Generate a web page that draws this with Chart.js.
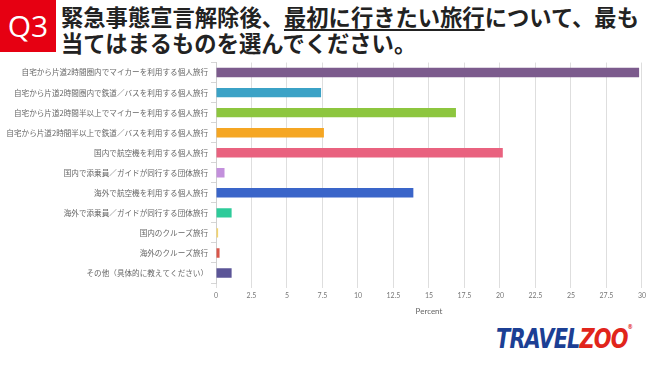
<!DOCTYPE html>
<html>
<head>
<meta charset="utf-8">
<script src="https://cdn.jsdelivr.net/npm/chart.js@4"></script>
<style>
  body { margin: 0; width: 650px; height: 365px; background: #fff; position: relative; overflow: hidden; font-family: "Noto Sans CJK JP", sans-serif; }
  #q { position: absolute; left: 0; top: 0; width: 56px; height: 52px; background: #e60012; color: #fff; font: 30px "Open Sans", sans-serif; line-height: 52px; text-align: center; }
  #head { position: absolute; left: 61px; top: 3px; font-size: 22.3px; font-weight: bold; line-height: 26px; color: #222; white-space: nowrap; }
  #head u { text-decoration-thickness: 2px; text-underline-offset: 3px; }
  #wrap { position: absolute; left: 0; top: 55px; width: 650px; height: 265px; }
  #logo { position: absolute; left: 496px; top: 323px; font: italic bold 27px "DejaVu Sans Condensed", "DejaVu Sans", sans-serif; letter-spacing: -1px; transform: scaleX(0.86); transform-origin: left top; white-space: nowrap; }
  #logo .t { color: #1c3f94; }
  #logo .z { color: #e1251b; }
  #logo sup { font-size: 7px; color: #e1251b; font-style: normal; vertical-align: top; }
</style>
</head>
<body>
<div id="q">Q3</div>
<div id="head">緊急事態宣言解除後、<u>最初に行きたい旅行</u>について、最も<br>当てはまるものを選んでください。</div>
<div id="wrap"><canvas id="c"></canvas></div>
<div id="logo"><span class="t">TRAVEL</span><span class="z">ZOO</span><sup>®</sup></div>
<script>
// answers, top to bottom
const categories = [
  "自宅から片道2時間圏内でマイカーを利用する個人旅行",
  "自宅から片道2時間圏内で鉄道／バスを利用する個人旅行",
  "自宅から片道2時間半以上でマイカーを利用する個人旅行",
  "自宅から片道2時間半以上で鉄道／バスを利用する個人旅行",
  "国内で航空機を利用する個人旅行",
  "国内で添乗員／ガイドが同行する団体旅行",
  "海外で航空機を利用する個人旅行",
  "海外で添乗員／ガイドが同行する団体旅行",
  "国内のクルーズ旅行",
  "海外のクルーズ旅行",
  "その他（具体的に教えてください）"
]
const percent = [29.8, 7.4, 16.9, 7.6, 20.2, 0.6, 13.9, 1.1, 0.15, 0.25, 1.1]
const barColors = ["#7c5b8d", "#3ba2c6", "#8dc63f", "#f5a623", "#e9627f", "#c390dc",
  "#3a65c9", "#2ecb9a", "#f3d46c", "#d9564a", "#5b5597"]
const xTicks = [0, 2.5, 5, 7.5, 10, 12.5, 15, 17.5, 20, 22.5, 25, 27.5, 30]

new Chart(document.getElementById("c"), {
  type: "bar",
  data: {
    labels: categories,
    datasets: [{
      data: percent,
      backgroundColor: barColors,
      borderColor: barColors,
      borderWidth: 0,
      categoryPercentage: 1,
      barPercentage: 0.47,
      minBarLength: 2
    }]
  },
  options: {
    indexAxis: "y",
    responsive: true,
    maintainAspectRatio: false,
    animation: false,
    layout: { padding: { top: 5, right: 7, left: 0, bottom: 0 } },
    plugins: { legend: { display: false }, tooltip: { enabled: false } },
    scales: {
      x: {
        min: 0,
        max: 30,
        afterBuildTicks: (scale) => { scale.ticks = xTicks.map(v => ({ value: v })) },
        grid: { color: "#dedede", lineWidth: 1, tickLength: 5 },
        border: { display: false },
        ticks: { color: "#777", font: { size: 7, family: "Lato" }, padding: 4, maxRotation: 0 },
        title: { display: true, text: "Percent", color: "#666", font: { size: 8, family: "Lato" }, padding: { top: 2 } }
      },
      y: {
        afterFit: (scale) => { scale.width = 216 },
        grid: { offset: true, drawOnChartArea: false, color: "#d6d6d6", tickLength: 5 },
        border: { display: true, color: "#cfcfcf" },
        ticks: { color: "#666", font: { size: 7.6, family: "Noto Sans CJK JP" }, padding: 3, autoSkip: false }
      }
    }
  }
})
</script>
</body>
</html>
